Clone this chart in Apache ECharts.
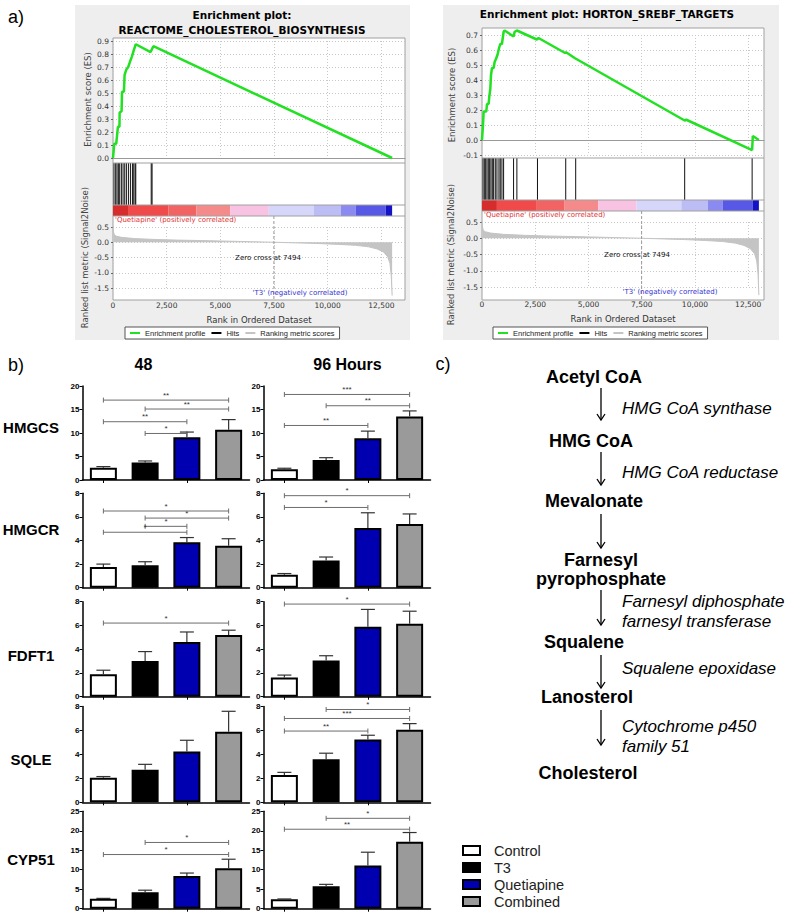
<!DOCTYPE html>
<html>
<head>
<meta charset="utf-8">
<title>Cholesterol biosynthesis - GSEA and qPCR</title>
<script src="https://cdn.jsdelivr.net/npm/echarts@6.0.0/dist/echarts.min.js"></script>
<style>
  html, body { margin: 0; padding: 0; background: #fff; }
  #main { width: 800px; height: 916px; }
</style>
</head>
<body>
<div id="main"></div>
<script>
// ---------- data: GSEA ----------
var zeroCross = 7494;
var esRankReactome = [0, 60, 150, 230, 300, 310, 400, 420, 510, 540, 620, 710, 790, 880, 970, 1060, 1750, 1880, 13000];
var esScoreReactome = [0, 0.11, 0.11, 0.24, 0.24, 0.35, 0.36, 0.51, 0.51, 0.64, 0.68, 0.70, 0.74, 0.78, 0.83, 0.875, 0.815, 0.86, 0];
var hitsReactome = [47, 125, 187, 250, 312, 390, 468, 546, 624, 718, 811, 905, 967, 1030, 1061, 1780, 1820];

var esRankHorton = [0, 47, 78, 203, 234, 312, 343, 390, 421, 468, 546, 593, 655, 733, 796, 858, 936, 1014, 1061, 1482, 1529, 1638, 2574, 2652, 3900, 3947, 4368, 9516, 9594, 12683, 12714, 13000];
var esScoreHorton = [0, 0.1, 0.19, 0.19, 0.24, 0.24, 0.29, 0.34, 0.43, 0.48, 0.48, 0.52, 0.54, 0.57, 0.61, 0.64, 0.64, 0.72, 0.73, 0.69, 0.72, 0.73, 0.67, 0.68, 0.58, 0.585, 0.545, 0.13, 0.135, -0.067, 0.027, 0];
var hitsHorton = [47, 109, 172, 234, 296, 359, 421, 484, 546, 624, 702, 796, 858, 936, 1014, 1482, 1638, 2605, 3931, 4399, 9516, 12683];

// ranked list (Signal2Noise), shared by both gene sets
var metricRank = [0, 20, 60, 150, 400, 1000, 2000, 3000, 4500, 6000, 7494, 8500, 9500, 10500, 11300, 11900, 12300, 12600, 12800, 12900, 12960, 13000];
var metricValue = [0.55, 0.35, 0.25, 0.2, 0.16, 0.12, 0.09, 0.07, 0.05, 0.025, 0, -0.02, -0.04, -0.07, -0.1, -0.15, -0.22, -0.32, -0.48, -0.7, -1.1, -1.75];

// heat bar under the hits
var heatEdges = [0, 700, 2574, 3880, 5460, 7254, 9360, 10608, 11310, 12700, 13000];
var heatColors = ['#d62c2c', '#f14a4a', '#f26464', '#f58a8a', '#f8c2e2', '#d6d6fa', '#bdbdf5', '#8a8af1', '#5858e6', '#1414c4'];

// ---------- data: qPCR bars ----------
var groups = ['Control', 'T3', 'Quetiapine', 'Combined'];
var groupColors = ['#ffffff', '#000000', '#0000b0', '#9a9a9a'];
var genes = ['HMGCS', 'HMGCR', 'FDFT1', 'SQLE', 'CYP51'];
var timePoints = ['48', '96 Hours'];
var geneAxisMax = [20, 8, 8, 8, 25];
var geneAxisStep = [5, 2, 2, 2, 5];

// [48 h, 96 h] for each gene
var meanHMGCS = [[2.6, 3.7, 9.1, 10.7], [2.3, 4.25, 8.9, 13.5]];
var errHMGCS = [[0.25, 0.35, 1.1, 2.15], [0.2, 0.5, 1.5, 1.2]];
var meanHMGCR = [[1.75, 1.9, 3.85, 3.55], [1.1, 2.3, 5.05, 5.4]];
var errHMGCR = [[0.25, 0.3, 0.4, 0.6], [0.1, 0.3, 1.3, 0.85]];
var meanFDFT1 = [[1.9, 3.0, 4.6, 5.2], [1.62, 3.05, 5.9, 6.15]];
var errFDFT1 = [[0.33, 0.8, 0.85, 0.4], [0.2, 0.4, 1.45, 1.05]];
var meanSQLE = [[2.05, 2.72, 4.25, 5.9], [2.28, 3.6, 5.25, 6.05]];
var errSQLE = [[0.1, 0.45, 0.93, 1.7], [0.22, 0.5, 0.35, 0.52]];
var meanCYP51 = [[2.55, 4.2, 8.4, 10.4], [2.4, 5.75, 11.1, 17.2]];
var errCYP51 = [[0.1, 0.55, 0.75, 2.3], [0.1, 0.5, 3.4, 2.35]];

// significance brackets: [from group, to group, height, stars]
var sigHMGCS = [[[0, 3, 17.0, '**'], [1, 3, 15.1, '**'], [0, 2, 12.4, '**'], [1, 2, 9.9, '*']],
                [[0, 3, 18.2, '***'], [1, 3, 15.8, '**'], [0, 2, 11.6, '**']]];
var sigHMGCR = [[[0, 3, 6.5, '*'], [1, 3, 5.9, '*'], [1, 2, 5.2, '*'], [0, 2, 4.7, '*']],
                [[0, 3, 7.8, '*'], [0, 2, 6.8, '*']]];
var sigFDFT1 = [[[0, 3, 6.2, '*']], [[0, 3, 7.8, '*']]];
var sigSQLE = [[], [[1, 3, 7.75, '*'], [0, 3, 7.0, '***'], [0, 2, 5.95, '**']]];
var sigCYP51 = [[[1, 3, 17.0, '*'], [0, 3, 13.9, '*']], [[1, 3, 23.2, '*'], [0, 3, 20.4, '**']]];

var geneMeans = [meanHMGCS, meanHMGCR, meanFDFT1, meanSQLE, meanCYP51];
var geneErrs = [errHMGCS, errHMGCR, errFDFT1, errSQLE, errCYP51];
var geneSig = [sigHMGCS, sigHMGCR, sigFDFT1, sigSQLE, sigCYP51];

// ---------- data: pathway ----------
var pathwaySteps = ['Acetyl CoA', 'HMG CoA', 'Mevalonate', 'Farnesyl\npyrophosphate', 'Squalene', 'Lanosterol', 'Cholesterol'];
var pathwayEnzymes = ['HMG CoA synthase', 'HMG CoA reductase', '', 'Farnesyl diphosphate\nfarnesyl transferase', 'Squalene epoxidase', 'Cytochrome p450\nfamily 51'];

// ---------- layout ----------
var gseaFont = 'DejaVu Sans';
var figFont = 'Liberation Sans';
var gseaSets = [
  {title: ['Enrichment plot:', 'REACTOME_CHOLESTEROL_BIOSYNTHESIS'], rank: esRankReactome, score: esScoreReactome, hits: hitsReactome,
   boxX: 75, boxW: 335, plotL: 113, plotR: 405, plotT: 38, titleX: 242, titleY: [15, 29.5],
   esTop: 41, esH: 117, esMin: 0, esMax: 0.9, esBottom: 163, heatTop: 205, rankTop: 227, rankH: 61, rankMax: 13600,
   esGap: 21, rkGap: 24, legendX: 125, posTxt: [115, 220], zcTxt: [268, 258], negTxt: [300, 293]},
  {title: ['Enrichment plot: HORTON_SREBF_TARGETS'], rank: esRankHorton, score: esScoreHorton, hits: hitsHorton,
   boxX: 443, boxW: 336, plotL: 482, plotR: 764, plotT: 28, titleX: 607, titleY: [13.5],
   esTop: 35, esH: 120, esMin: -0.1, esMax: 0.7, esBottom: 158, heatTop: 200, rankTop: 222, rankH: 65, rankMax: 13240,
   esGap: 26, rkGap: 27, legendX: 493, posTxt: [484, 215], zcTxt: [637, 255], negTxt: [670, 292]}
];
var plotBottom = 300;
var barColLeft = [82.5, 263.5];
var barGridW = 167;
var barRowTop = [386, 493.3, 601.7, 706.5, 811.3];
var barRowH = [94, 94.4, 95, 95.8, 97.4];
var geneLabelY = [427, 529, 655, 759, 859];
var stepX = [594, 591, 594, 601, 584, 587, 588];
var stepY = [377, 441, 501, 569, 642, 697, 773];
var enzymeY = [408, 472, 0, 611, 668, 736.5];
var arrowY = [[388, 420], [452, 485], [514, 548], [590, 625], [655, 688], [710, 745]];

var grids = [], xAxes = [], yAxes = [], series = [], graphics = [];

function pair(grid, xAxis, yAxis) {
  grids.push(grid);
  xAxis.gridIndex = yAxis.gridIndex = grids.length - 1;
  xAxes.push(xAxis);
  yAxes.push(yAxis);
  return grids.length - 1;
}
function zip(a, b) {
  return a.map(function (v, i) { return [v, b[i]]; });
}
function txt(s, x, y, font, fill, align, extra) {
  var st = {text: s, x: x, y: y, font: font, fill: fill || '#000', align: align || 'center', verticalAlign: 'middle'};
  if (extra) for (var k in extra) st[k] = extra[k];
  graphics.push({type: 'text', style: st, z: 20});
}
function hline(x1, x2, y, color) {
  graphics.push({type: 'line', shape: {x1: x1, y1: y, x2: x2, y2: y}, style: {stroke: color, lineWidth: 1}, z: 5});
}

// ---------- GSEA panels ----------
gseaSets.forEach(function (g) {
  graphics.push({type: 'rect', shape: {x: g.boxX, y: 5, width: g.boxW, height: 335}, style: {fill: '#eeeeee'}, z: -10});
  graphics.push({type: 'rect', shape: {x: g.plotL, y: g.plotT, width: g.plotR - g.plotL, height: plotBottom - g.plotT},
    style: {fill: '#fff', stroke: '#a0a0a0', lineWidth: 1}, z: -9});
  hline(g.plotL, g.plotR, g.esBottom, '#a0a0a0');
  hline(g.plotL, g.plotR, g.heatTop, '#a0a0a0');
  hline(g.plotL, g.plotR, g.heatTop + 11, '#a0a0a0');
  g.title.forEach(function (t, i) {
    txt(t, g.titleX, g.titleY[i], 'bold 10.5px "' + gseaFont + '"', '#000');
  });
  var W = g.plotR - g.plotL;
  var dotted = {show: true, lineStyle: {type: [1, 2], color: '#c8c8c8'}};
  var gLabel = {fontSize: 7.5, fontFamily: gseaFont, color: '#333', margin: 4, formatter: function (v) { return v.toFixed(1); }};

  // enrichment score
  var es = pair({left: g.plotL, top: g.esTop, width: W, height: g.esH},
    {type: 'value', min: 0, max: g.rankMax, interval: 2500, axisLabel: {show: false}, axisTick: {show: false},
     axisLine: {show: true, onZero: true, lineStyle: {color: '#999'}}, splitLine: dotted},
    {type: 'value', min: g.esMin, max: g.esMax, interval: 0.1, name: 'Enrichment score (ES)', nameLocation: 'middle',
     nameGap: g.esGap, nameTextStyle: {fontSize: 8.5, fontFamily: gseaFont, color: '#444'},
     axisLine: {show: false}, axisTick: {show: true, length: 2, lineStyle: {color: '#666'}}, axisLabel: gLabel, splitLine: dotted});
  series.push({type: 'line', name: 'Enrichment profile', xAxisIndex: es, yAxisIndex: es, data: zip(g.rank, g.score),
    symbol: 'none', clip: false, color: '#22e022', lineStyle: {color: '#22e022', width: 2.5}, silent: true});

  // hits
  var hits = pair({left: g.plotL, top: g.esBottom, width: W, height: g.heatTop - g.esBottom},
    {type: 'value', min: 0, max: g.rankMax, show: false}, {type: 'value', min: 0, max: 1, show: false});
  series.push({type: 'custom', name: 'Hits', xAxisIndex: hits, yAxisIndex: hits, color: '#000', silent: true,
    data: g.hits.map(function (r) { return [r, 1]; }),
    renderItem: function (params, api) {
      var a = api.coord([api.value(0), 0]), b = api.coord([api.value(0), 1]);
      return {type: 'line', shape: {x1: a[0], y1: a[1], x2: b[0], y2: b[1]}, style: {stroke: '#111', lineWidth: 1}};
    }});

  // heat bar
  var heat = pair({left: g.plotL, top: g.heatTop, width: W, height: 11},
    {type: 'value', min: 0, max: g.rankMax, show: false}, {type: 'value', min: 0, max: 1, show: false});
  series.push({type: 'custom', xAxisIndex: heat, yAxisIndex: heat, silent: true, encode: {x: [0, 1]},
    data: heatEdges.slice(0, -1).map(function (e, i) { return [e, heatEdges[i + 1]]; }),
    renderItem: function (params, api) {
      var a = api.coord([api.value(0), 1]), b = api.coord([api.value(1), 0]);
      return {type: 'rect', shape: {x: a[0], y: a[1], width: b[0] - a[0], height: b[1] - a[1]},
        style: {fill: heatColors[params.dataIndex]}};
    }});

  // ranked list metric
  var rk = pair({left: g.plotL, top: g.rankTop, width: W, height: g.rankH},
    {type: 'value', min: 0, max: g.rankMax, interval: 2500, name: 'Rank in Ordered Dataset', nameLocation: 'middle', nameGap: 27,
     nameTextStyle: {fontSize: 8.5, fontFamily: gseaFont, color: '#333'},
     axisLine: {show: false, onZero: false}, axisTick: {show: false}, splitLine: dotted,
     axisLabel: {fontSize: 7.5, fontFamily: gseaFont, color: '#333', margin: 13,
       formatter: function (v) { return v.toLocaleString('en-US'); }}},
    {type: 'value', min: -1.5, max: 0.5, interval: 0.5, name: 'Ranked list metric (Signal2Noise)', nameLocation: 'middle',
     nameGap: g.rkGap, nameTextStyle: {fontSize: 8.5, fontFamily: gseaFont, color: '#444'},
     axisLine: {show: false}, axisTick: {show: true, length: 2, lineStyle: {color: '#666'}}, axisLabel: gLabel, splitLine: dotted});
  series.push({type: 'line', name: 'Ranking metric scores', xAxisIndex: rk, yAxisIndex: rk, data: zip(metricRank, metricValue),
    symbol: 'none', clip: false, color: '#c4c4c4', lineStyle: {color: '#c4c4c4', width: 1},
    areaStyle: {color: '#c4c4c4', opacity: 1}, silent: true});
  var zcTop = g.heatTop + 11;
  series.push({type: 'custom', xAxisIndex: rk, yAxisIndex: rk, silent: true, z: 4, data: [[zeroCross, 0]],
    renderItem: function (params, api) {
      var x = api.coord([api.value(0), 0])[0];
      return {type: 'line', shape: {x1: x, y1: zcTop, x2: x, y2: plotBottom},
        style: {stroke: '#999', lineWidth: 1, lineDash: [3, 2]}};
    }});
  txt("'Quetiapine' (positively correlated)", g.posTxt[0], g.posTxt[1], '7px "' + gseaFont + '"', '#e03434', 'left');
  txt('Zero cross at ' + zeroCross, g.zcTxt[0], g.zcTxt[1], '7px "' + gseaFont + '"', '#111');
  txt("'T3' (negatively correlated)", g.negTxt[0], g.negTxt[1], '7px "' + gseaFont + '"', '#3434d0');
});

// ---------- qPCR bar panels ----------
function errorBar(params, api) {
  var x = api.value(0);
  var lo = api.coord([x, api.value(1)]), hi = api.coord([x, api.value(2)]);
  var st = {stroke: '#333', lineWidth: 1.2};
  return {type: 'group', children: [
    {type: 'line', shape: {x1: lo[0], y1: lo[1], x2: hi[0], y2: hi[1]}, style: st},
    {type: 'line', shape: {x1: hi[0] - 7, y1: hi[1], x2: hi[0] + 7, y2: hi[1]}, style: st}
  ]};
}
function bracket(list) {
  return function (params, api) {
    var b = list[params.dataIndex];
    var p0 = api.coord([b[0], b[2]]), p1 = api.coord([b[1], b[2]]);
    var st = {stroke: '#6c6c6c', lineWidth: 1};
    return {type: 'group', children: [
      {type: 'line', shape: {x1: p0[0], y1: p0[1], x2: p1[0], y2: p1[1]}, style: st},
      {type: 'line', shape: {x1: p0[0], y1: p0[1] - 2.5, x2: p0[0], y2: p0[1] + 2.5}, style: st},
      {type: 'line', shape: {x1: p1[0], y1: p1[1] - 2.5, x2: p1[0], y2: p1[1] + 2.5}, style: st},
      {type: 'text', style: {text: b[3], x: (p0[0] + p1[0]) / 2, y: p0[1] - 1, align: 'center', verticalAlign: 'bottom',
        font: '8px "' + figFont + '"', fill: '#333'}}
    ]};
  };
}

genes.forEach(function (gene, r) {
  txt(gene, 31, geneLabelY[r], 'bold 15px "' + figFont + '"');
  timePoints.forEach(function (t, c) {
    var means = geneMeans[r][c], errs = geneErrs[r][c], sig = geneSig[r][c];
    var k = pair({left: barColLeft[c], top: barRowTop[r], width: barGridW, height: barRowH[r]},
      {type: 'category', data: groups, axisLabel: {show: false},
       axisTick: {show: true, alignWithLabel: true, length: 3, lineStyle: {color: '#000', width: 1}},
       axisLine: {lineStyle: {color: '#000', width: 1.5}}},
      {type: 'value', min: 0, max: geneAxisMax[r], interval: geneAxisStep[r], splitLine: {show: false},
       axisLine: {show: true, lineStyle: {color: '#000', width: 1.5}},
       axisTick: {show: true, length: 3, lineStyle: {color: '#000', width: 1}},
       axisLabel: {fontSize: 8, fontWeight: 'bold', fontFamily: figFont, color: '#000', margin: 3}});
    groups.forEach(function (g, i) {
      series.push({type: 'bar', name: g, xAxisIndex: k, yAxisIndex: k, barWidth: 27, barGap: '-100%', silent: true,
        itemStyle: {color: groupColors[i], borderColor: '#000', borderWidth: 2},
        data: groups.map(function (_, j) { return j === i ? means[j] : '-'; })});
    });
    series.push({type: 'custom', xAxisIndex: k, yAxisIndex: k, silent: true, z: 3, encode: {x: 0, y: [1, 2]},
      data: means.map(function (m, j) { return [j, m, +(m + errs[j]).toFixed(2)]; }), renderItem: errorBar});
    if (sig.length) {
      series.push({type: 'custom', xAxisIndex: k, yAxisIndex: k, silent: true, z: 3, encode: {x: [0, 2], y: 1},
        data: sig.map(function (s) { return [s[0], s[2], s[1]]; }), renderItem: bracket(sig)});
    }
  });
});

// panel labels and headings
txt('a)', 16, 17, '18px "' + figFont + '"');
txt('b)', 16, 365, '18px "' + figFont + '"');
txt('c)', 443, 364, '18px "' + figFont + '"');
txt(timePoints[0], 143.5, 364, 'bold 16px "' + figFont + '"');
txt(timePoints[1], 347.5, 364, 'bold 16px "' + figFont + '"');

// ---------- pathway ----------
pathwaySteps.forEach(function (s, i) {
  txt(s, stepX[i], stepY[i], 'bold 18px "' + figFont + '"', '#000', 'center', {lineHeight: 19});
});
pathwayEnzymes.forEach(function (s, i) {
  if (s) txt(s, 622, enzymeY[i], 'italic 17px "' + figFont + '"', '#000', 'left', {lineHeight: 20});
});
arrowY.forEach(function (a) {
  graphics.push({type: 'group', z: 20, children: [
    {type: 'line', shape: {x1: 601, y1: a[0], x2: 601, y2: a[1]}, style: {stroke: '#000', lineWidth: 1.3}},
    {type: 'polyline', shape: {points: [[597, a[1] - 6], [601, a[1]], [605, a[1] - 6]]}, style: {stroke: '#000', lineWidth: 1.3, fill: null}}
  ]});
});

var chart = echarts.init(document.getElementById('main'), null, {renderer: 'svg'});
chart.setOption({
  animation: false,
  backgroundColor: '#fff',
  grid: grids.map(function (g) { g.containLabel = false; return g; }),
  xAxis: xAxes,
  yAxis: yAxes,
  legend: [
    {data: ['Enrichment profile', 'Hits', 'Ranking metric scores'], left: gseaSets[0].legendX, top: 327,
     icon: 'rect', itemWidth: 10, itemHeight: 2, itemGap: 6, padding: [2, 5], selectedMode: false,
     borderColor: '#555', borderWidth: 1, backgroundColor: '#fff',
     textStyle: {fontSize: 7.5, fontFamily: figFont, color: '#222'}},
    {data: ['Enrichment profile', 'Hits', 'Ranking metric scores'], left: gseaSets[1].legendX, top: 327,
     icon: 'rect', itemWidth: 10, itemHeight: 2, itemGap: 6, padding: [2, 5], selectedMode: false,
     borderColor: '#555', borderWidth: 1, backgroundColor: '#fff',
     textStyle: {fontSize: 7.5, fontFamily: figFont, color: '#222'}},
    {data: groups, left: 462, top: 842, orient: 'vertical', icon: 'rect', itemWidth: 17, itemHeight: 9, itemGap: 0,
     padding: 0, selectedMode: false, itemStyle: {borderColor: '#000', borderWidth: 2},
     textStyle: {fontSize: 14.5, fontFamily: figFont, color: '#222', lineHeight: 17, padding: [0, 0, 0, 9]}}
  ],
  graphic: graphics,
  series: series
});
</script>
</body>
</html>
